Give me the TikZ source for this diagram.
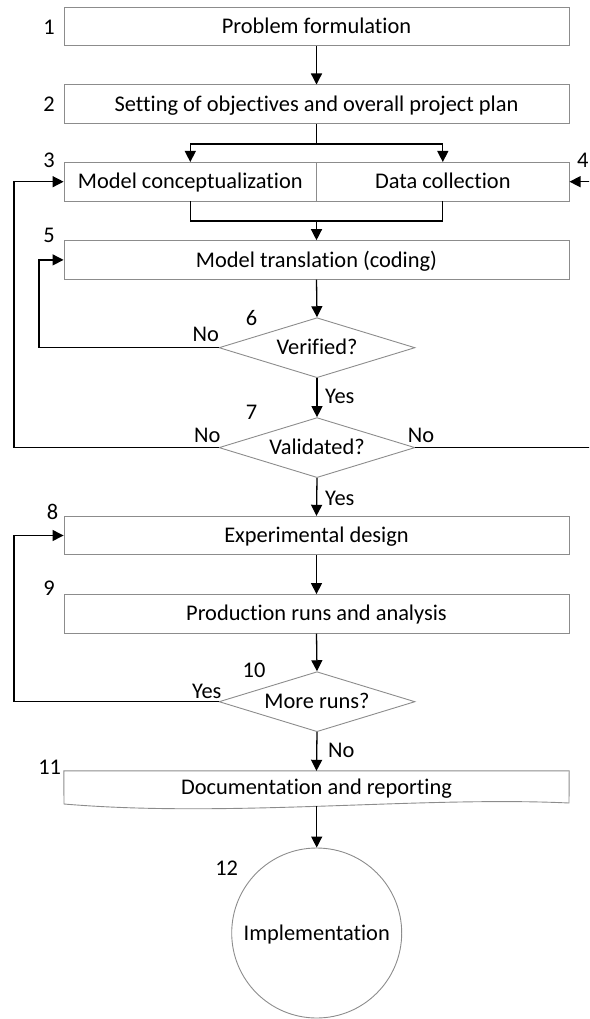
\documentclass[tikz,border=0pt]{standalone}
\usepackage{fontspec}
\setmainfont{Carlito}[Ligatures={NoCommon}]
\usetikzlibrary{shapes.geometric,arrows.meta,calc}
\definecolor{boxgray}{RGB}{140,140,140}
\begin{document}
\begin{tikzpicture}[x=1pt,y=-1pt,
  every node/.style={font=\fontsize{22.4}{26}\selectfont, inner sep=0pt},
  txt/.style={text height=17.9pt, text depth=3.6pt},
  stepbox/.style={txt, draw=boxgray, line width=0.9pt, rectangle, minimum width=505pt, minimum height=38.5pt},
  halfbox/.style={txt, draw=boxgray, line width=0.9pt, rectangle, minimum width=252.5pt, minimum height=38.5pt},
  decbox/.style={txt, draw=boxgray, line width=0.9pt, diamond, aspect=3.27, minimum width=196pt, minimum height=60pt},
  ln/.style={line width=1.3pt, black},
  arr/.style={ln, -{Triangle[length=11pt,width=11pt]}},
  lbl/.style={}
]
\useasboundingbox (0,0) rectangle (589,1019);
\clip (0,0) rectangle (589,1019);

% boxes
\node[stepbox] (b1) at (316.5,26.5) {Problem formulation};
\node[stepbox] (b2) at (316.5,104.2) {Setting of objectives and overall project plan};
\node[halfbox] (b3a) at (190.3,181.7) {Model conceptualization};
\node[halfbox] (b3b) at (442.8,181.7) {Data collection};
\node[stepbox] (b5) at (316.5,259.9) {Model translation (coding)};
\node[decbox] (d6) at (317,347.7) {Verified?};
\node[decbox] (d7) at (317,447.6) {Validated?};
\node[stepbox] (b8) at (316.5,535.5) {Experimental design};
\node[stepbox] (b9) at (316.5,613.8) {Production runs and analysis};
\node[decbox] (d10) at (317,701.7) {More runs?};
\node[txt, minimum width=505pt, minimum height=33pt] (b11) at (316.5,787.5) {Documentation and reporting};
\draw[draw=boxgray, line width=0.9pt] (b11.north west) -- (b11.north east) -- (569,803) .. controls (420,796) and (230,818) .. (64,804) -- cycle;
\coordinate (b11bot) at (316.7,806.2);
\node[txt, draw=boxgray, line width=0.9pt, circle, minimum size=170pt] (c12) at (316.7,933) {Implementation};

% number labels
\node[lbl] (l1) at (49,27) {1};
\node[lbl] (l2) at (49,104) {2};
\node[lbl] (l3) at (49,160) {3};
\node[lbl] (l4) at (582.7,160) {4};
\node[lbl] (l5) at (49,235) {5};
\node[lbl] (l6) at (251.6,317.7) {6};
\node[lbl] (l7) at (251.6,412.7) {7};
\node[lbl] (l8) at (52.6,511.7) {8};
\node[lbl] (l9) at (49,588.3) {9};
\node[lbl] (l10) at (254,670.7) {10};
\node[lbl] (l11) at (49.7,767.7) {11};
\node[lbl] (l12) at (226.7,868) {12};

% yes/no labels
\node[anchor=east] (n6) at (219,334) {No};
\node[anchor=west] (y6) at (325,396.7) {Yes};
\node[anchor=east] (n7l) at (220.5,435) {No};
\node[anchor=west] (n7r) at (407.6,435) {No};
\node[anchor=west] (y7) at (325,498.3) {Yes};
\node[anchor=east] (y10) at (221.6,691.7) {Yes};
\node[anchor=west] (n10) at (328,750) {No};

% helper coordinates
\coordinate (s1) at (316.5,144);
\coordinate (j1) at (316.5,221);
\coordinate (r6) at (39,0);
\coordinate (rL) at (14,0);
\coordinate (rR) at (600,0);

% connectors
\draw[arr] (b1.south) -- (b2.north);
\draw[ln] (b2.south) -- (s1);
\draw[arr] (s1) -| (b3a.north);
\draw[arr] (s1) -| (b3b.north);
\draw[ln] (b3a.south) |- (j1);
\draw[ln] (b3b.south) |- (j1);
\draw[arr] (j1) -- (b5.north);
\draw[arr] (b5.south) -- (d6.north);
\draw[arr] (d6.west) -- (d6.west -| r6) |- (b5.west);
\draw[arr] (d6.south) -- (d7.north);
\draw[arr] (d7.west) -- (d7.west -| rL) |- (b3a.west);
\draw[arr] (d7.east) -- (d7.east -| rR) |- (b3b.east);
\draw[arr] (d7.south) -- (b8.north);
\draw[arr] (b8.south) -- (b9.north);
\draw[arr] (b9.south) -- (d10.north);
\draw[arr] (d10.west) -- (d10.west -| rL) |- (b8.west);
\draw[arr] (d10.south) -- (b11.north);
\draw[arr] (b11bot) -- (c12.north);
\end{tikzpicture}
\end{document}
